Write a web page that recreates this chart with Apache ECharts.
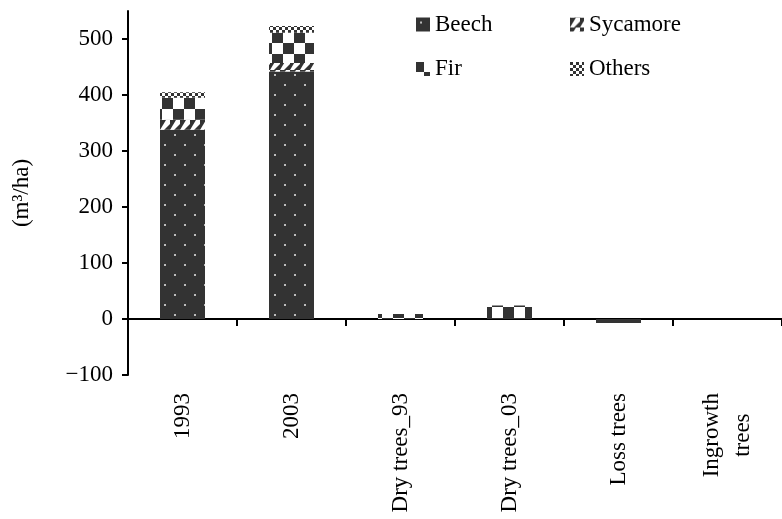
<!DOCTYPE html>
<html>
<head>
<meta charset="utf-8">
<script src="https://cdn.jsdelivr.net/npm/echarts@6/dist/echarts.min.js"></script>
<style>html,body{margin:0;padding:0;background:#fff}#c{width:782px;height:519px}</style>
</head>
<body>
<div id="c"></div>
<script>
// ---- data ----
var categories = ['1993', '2003', 'Dry trees_93', 'Dry trees_03', 'Loss trees', 'Ingrowth\ntrees'];
var beech    = [338, 442, 0, 2, -7, 0];
var sycamore = [18, 15, 0, 0, 0, 0];
var fir      = [39, 54, 9, 22, 0, 0];
var others   = [10, 12, 0, 0, 0, 0];
var yTicks   = [-100, 0, 100, 200, 300, 400, 500];

// ---- patterns (style only) ----
var DARK = '#333333';
function makePattern(w, h, draw, ox, oy) {
  var cv = document.createElement('canvas');
  cv.width = w; cv.height = h;
  var ctx = cv.getContext('2d');
  draw(ctx, w, h);
  return { image: cv, repeat: 'repeat', x: ox || 0, y: oy || 0 };
}
var beechPat = makePattern(20, 20, function (c, w, h) {
  c.fillStyle = DARK; c.fillRect(0, 0, w, h);
  c.fillStyle = '#bdbdbd';
  c.fillRect(4, 4, 2, 2);
  c.fillRect(14, 14, 2, 2);
});
var sycPat = makePattern(10, 10, function (c, w, h) {
  c.fillStyle = DARK; c.fillRect(0, 0, w, h);
  c.fillStyle = '#ffffff';
  c.beginPath();
  c.moveTo(0, 10); c.lineTo(4, 10); c.lineTo(10, 4); c.lineTo(10, 0); c.lineTo(6, 0);
  c.closePath(); c.fill();
});
var firPat = makePattern(22, 22, function (c, w, h) {
  c.fillStyle = '#ffffff'; c.fillRect(0, 0, w, h);
  c.fillStyle = DARK;
  c.fillRect(0, 0, 11, 11);
  c.fillRect(11, 11, 11, 11);
}, 8, 10);
var othPat = makePattern(6, 6, function (c, w, h) {
  c.fillStyle = '#ffffff'; c.fillRect(0, 0, w, h);
  c.fillStyle = DARK;
  c.fillRect(0, 0, 3, 3);
  c.fillRect(3, 3, 3, 3);
});

var FONT = 'Liberation Serif';
var FS = 23;

function legendAt(name, left, top) {
  return {
    data: [name], left: left, top: top, orient: 'vertical', padding: 0,
    itemWidth: 14, itemHeight: 14, itemGap: 5, icon: 'rect',
    selectedMode: false,
    textStyle: { fontFamily: FONT, fontSize: FS, color: '#000', padding: [0, 0, 0, 0] }
  };
}

function barSeries(name, data, color) {
  return {
    name: name, type: 'bar', stack: 'total', data: data, barWidth: 45,
    itemStyle: { color: color }
  };
}

var chart = echarts.init(document.getElementById('c'), null, { renderer: 'canvas' });
chart.setOption({
  animation: false,
  backgroundColor: '#fff',
  legend: [
    legendAt('Beech', 416, 13),
    legendAt('Sycamore', 570, 13),
    legendAt('Fir', 416, 57.5),
    legendAt('Others', 570, 57.5)
  ],
  grid: { left: 128, right: 0, top: 11, bottom: 144, containLabel: false, outerBoundsMode: 'none' },
  xAxis: {
    type: 'category',
    data: categories,
    boundaryGap: true,
    axisLine: { onZero: true, lineStyle: { color: '#000', width: 2 } },
    axisTick: { show: true, length: 7, alignWithLabel: false, lineStyle: { color: '#000', width: 2 } },
    axisLabel: {
      rotate: 90, margin: 18, interval: 0,
      fontFamily: FONT, fontSize: FS, color: '#000', lineHeight: 31,
      formatter: function (v) {
        if (v.indexOf('\n') >= 0) {
          var p = v.split('\n');
          return '{a|' + p[0] + '}\n{b|' + p[1] + '}';
        }
        return v;
      },
      rich: {
        a: { fontFamily: FONT, fontSize: FS, color: '#000', lineHeight: 31 },
        b: { fontFamily: FONT, fontSize: FS, color: '#000', lineHeight: 31, align: 'center' }
      }
    },
    splitLine: { show: false }
  },
  yAxis: {
    type: 'value',
    min: -100, max: 550,
    name: '(m³/ha)',
    nameLocation: 'middle',
    nameGap: 95,
    nameRotate: 90,
    nameTextStyle: { fontFamily: FONT, fontSize: FS, color: '#000' },
    axisLine: { show: true, lineStyle: { color: '#000', width: 2 } },
    axisTick: { show: true, length: 6, customValues: yTicks, lineStyle: { color: '#000', width: 2 } },
    axisLabel: {
      margin: 15, customValues: yTicks,
      fontFamily: FONT, fontSize: FS, color: '#000',
      formatter: function (v) { return v < 0 ? '\u2212' + Math.abs(v) : String(v); }
    },
    splitLine: { show: false }
  },
  series: [
    barSeries('Beech', beech, beechPat),
    barSeries('Sycamore', sycamore, sycPat),
    barSeries('Fir', fir, firPat),
    barSeries('Others', others, othPat)
  ]
});
</script>
</body>
</html>
